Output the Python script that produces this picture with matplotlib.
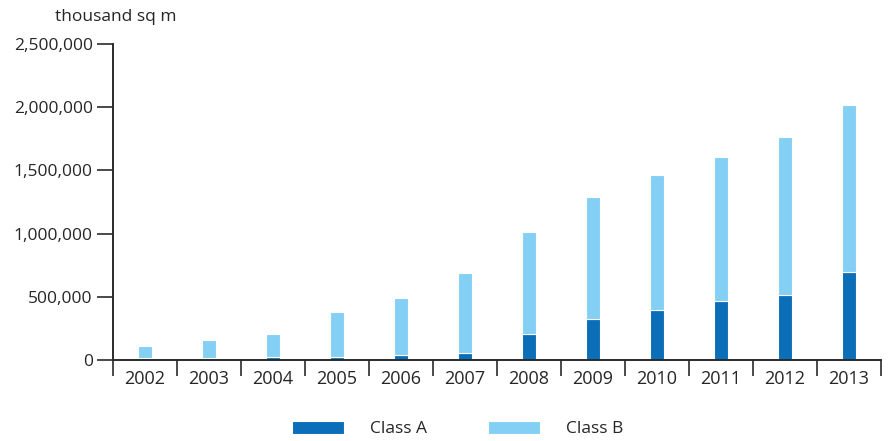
import numpy as np
import matplotlib.pyplot as plt
from matplotlib.ticker import FuncFormatter, FixedLocator

years = ['2002', '2003', '2004', '2005', '2006', '2007',
         '2008', '2009', '2010', '2011', '2012', '2013']
class_a = [12000, 16000, 26000, 26000, 40000, 55000,
           206000, 327000, 393000, 467000, 517000, 696000]
totals = [113000, 160000, 208000, 377000, 490000, 688000,
          1013000, 1288000, 1464000, 1606000, 1764000, 2017000]
class_b = [t - a for t, a in zip(totals, class_a)]

dark = '#0b6eb8'
light = '#84d0f4'
axis_col = '#2b2b2b'
text_col = '#262626'

plt.rcParams['font.family'] = ['Open Sans', 'DejaVu Sans']
fs = 12.5

fig = plt.figure(figsize=(8.92, 4.41), dpi=100)
ax = fig.add_axes([113 / 892, 1 - 360 / 441, (881 - 113) / 892, (360 - 44) / 441])

x = np.arange(len(years))
w = 0.22
ax.bar(x, class_a, width=w, color=dark, edgecolor='white', linewidth=0.8, label='Class A')
ax.bar(x, class_b, width=w, bottom=class_a, color=light, edgecolor='white', linewidth=0.8,
       label='Class B')

ax.set_xlim(-0.5, len(years) - 0.5)
ax.set_ylim(0, 2500000)
ax.set_yticks(np.arange(0, 2500001, 500000))
ax.yaxis.set_major_formatter(FuncFormatter(lambda v, p: f'{int(v):,}'))

ax.set_xticks(x)
ax.set_xticklabels(years)
ax.xaxis.set_minor_locator(FixedLocator(np.arange(-0.5, len(years), 1.0)))
ax.tick_params(axis='x', which='major', length=0, pad=7, labelsize=fs + 0.5, labelcolor=text_col)
ax.tick_params(axis='x', which='minor', length=11.5, width=1.2, color=axis_col, direction='out')
ax.tick_params(axis='y', length=11.5, width=1.2, color=axis_col, pad=3, labelsize=fs,
               labelcolor=text_col)

for s in ['top', 'right']:
    ax.spines[s].set_visible(False)
for s in ['left', 'bottom']:
    ax.spines[s].set_color(axis_col)
    ax.spines[s].set_linewidth(1.4)

fig.text(55 / 892, 1 - 17 / 441, 'thousand sq m', fontsize=fs, color=text_col,
         ha='left', va='center')

fig.legend(loc='center', bbox_to_anchor=(458 / 892, 1 - 429 / 441), ncol=2, frameon=False,
           fontsize=fs, handlelength=3.0, handleheight=0.75, handletextpad=1.5,
           columnspacing=3.5, labelcolor=text_col)

fig.savefig('out.png', dpi=100)
